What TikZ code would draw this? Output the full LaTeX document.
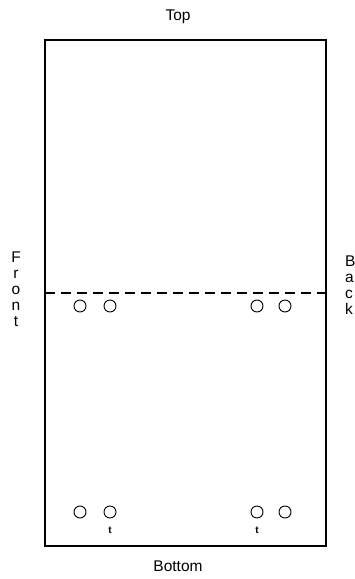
\documentclass[tikz,border=0pt]{standalone}
\usepackage{fontspec}
\setmainfont{Liberation Sans}
\begin{document}
\begin{tikzpicture}[x=1pt,y=-1pt,
  lbl/.style={inner sep=0pt,font=\fontsize{15.5}{16}\selectfont},
  hole/.style={circle,draw,line width=0.9pt,minimum size=12pt,inner sep=0pt},
  tmark/.style={inner sep=0pt,font=\fontsize{10}{10}\selectfont\bfseries}]
\path[use as bounding box] (0,0) rectangle (355,579);
\node[draw,line width=1.4pt,minimum width=281pt,minimum height=506pt,inner sep=0pt] (box) at (185.5,293) {};
\coordinate (dl) at (45,293);
\coordinate (dr) at (326,293);
\draw[line width=2pt,dash pattern=on 10pt off 6pt] (dl) -- (dr);
\node[lbl] (top) at (178,17) {Top};
\node[lbl] (bottom) at (178,566) {Bottom};
\node[lbl,align=center] (front) at (16,289) {F\\r\\o\\n\\t};
\node[lbl,align=left,anchor=north west] (back) at (345,256) {B\\a\\c\\k};
\foreach \x/\n in {80/a,110/b,257/c,285/d}{
  \node[hole] (u\n) at (\x,306) {};
  \node[hole] (l\n) at (\x,512) {};
}
\node[tmark] (t1) at (110,530) {t};
\node[tmark] (t2) at (257,530) {t};
\end{tikzpicture}
\end{document}
